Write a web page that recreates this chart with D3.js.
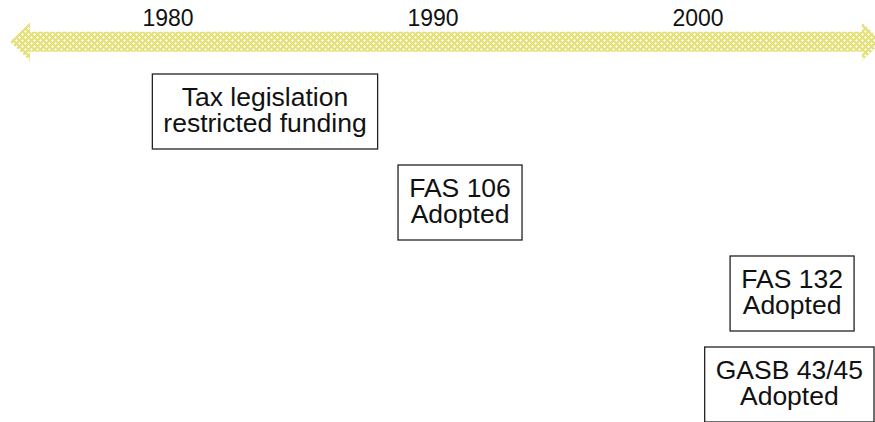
<!DOCTYPE html>
<html>
<head>
<meta charset="utf-8">
<script src="https://cdn.jsdelivr.net/npm/d3@7"></script>
<style>
  html, body { margin: 0; padding: 0; background: #fff; }
  svg { display: block; font-family: "Liberation Sans", Arial, sans-serif; }
</style>
</head>
<body>
<svg width="875" height="422"></svg>
<script>
// timeline data
let years = [1980, 1990, 2000];
let span = [1974.04, 2006.94];
let eventLines = [
    ["Tax legislation", "restricted funding"],
    ["FAS 106", "Adopted"],
    ["FAS 132", "Adopted"],
    ["GASB 43/45", "Adopted"]
];
let eventDates = [1983.66, 1991.02, 2003.55, 2003.45];

let w = 875;
let h = 422;
let svg = d3.select('svg');

let xScale = d3.scaleLinear()
    .domain([1980, 2000])
    .range([168, 698]);

let rowScale = d3.scaleLinear()
    .domain([0, eventLines.length - 1])
    .range([74, 347]);

// dotted yellow fill like the office pattern
let defs = svg.append('defs');
let pat = defs.append('pattern')
    .attr('id', 'dots')
    .attr('patternUnits', 'userSpaceOnUse')
    .attr('width', 6)
    .attr('height', 6);
pat.append('rect').attr('width', 6).attr('height', 6).attr('fill', '#e4e07a');
[[0, 0], [3, 3]].forEach(p => {
    pat.append('rect').attr('x', p[0] + 1).attr('y', p[1]).attr('width', 1).attr('height', 3).attr('fill', '#fbfae6');
    pat.append('rect').attr('x', p[0]).attr('y', p[1] + 1).attr('width', 3).attr('height', 1).attr('fill', '#fbfae6');
});

let drawArrow = () => {
    let cy = 41.7;
    let x0 = xScale(span[0]);
    let x1 = xScale(span[1]);
    let head = 20, hh = 19.2, sh = 10;
    let path = d3.path();
    path.moveTo(x0, cy);
    path.lineTo(x0 + head, cy - hh);
    path.lineTo(x0 + head, cy - sh);
    path.lineTo(x1 - head, cy - sh);
    path.lineTo(x1 - head, cy - hh);
    path.lineTo(x1, cy);
    path.lineTo(x1 - head, cy + hh);
    path.lineTo(x1 - head, cy + sh);
    path.lineTo(x0 + head, cy + sh);
    path.lineTo(x0 + head, cy + hh);
    path.closePath();
    svg.append('path')
        .attr('d', path.toString())
        .attr('fill', 'url(#dots)');
}

let drawYears = () => {
    svg.selectAll('.year')
        .data(years)
        .enter()
        .append('text')
        .attr('class', 'year')
        .attr('x', d => xScale(d))
        .attr('y', 26)
        .attr('text-anchor', 'middle')
        .attr('font-size', 23)
        .attr('fill', '#111')
        .text(d => d);
}

let drawEvents = () => {
    let g = svg.selectAll('.event')
        .data(eventLines)
        .enter()
        .append('g')
        .attr('class', 'event');

    g.append('rect')
        .attr('fill', '#fff')
        .attr('stroke', '#222')
        .attr('stroke-width', 1.3);

    g.each(function(lines, i) {
        let el = d3.select(this);
        let cx = xScale(eventDates[i]);
        let top = rowScale(i);
        let texts = el.selectAll('text')
            .data(lines)
            .enter()
            .append('text')
            .attr('font-size', 26.5)
            .attr('fill', '#111')
            .attr('text-anchor', 'middle')
            .attr('y', (d, j) => top + 31.5 + j * 26.7)
            .text(d => d);
        let tw = d3.max(texts.nodes(), n => n.getComputedTextLength());
        let bw = Math.max(124, tw + 22);
        let bx = Math.min(cx - bw / 2, w - 1 - bw);
        texts.attr('x', bx + bw / 2);
        el.select('rect')
            .attr('x', bx)
            .attr('y', top)
            .attr('width', bw)
            .attr('height', 75);
    });
}

drawArrow();
drawYears();
drawEvents();
</script>
</body>
</html>
